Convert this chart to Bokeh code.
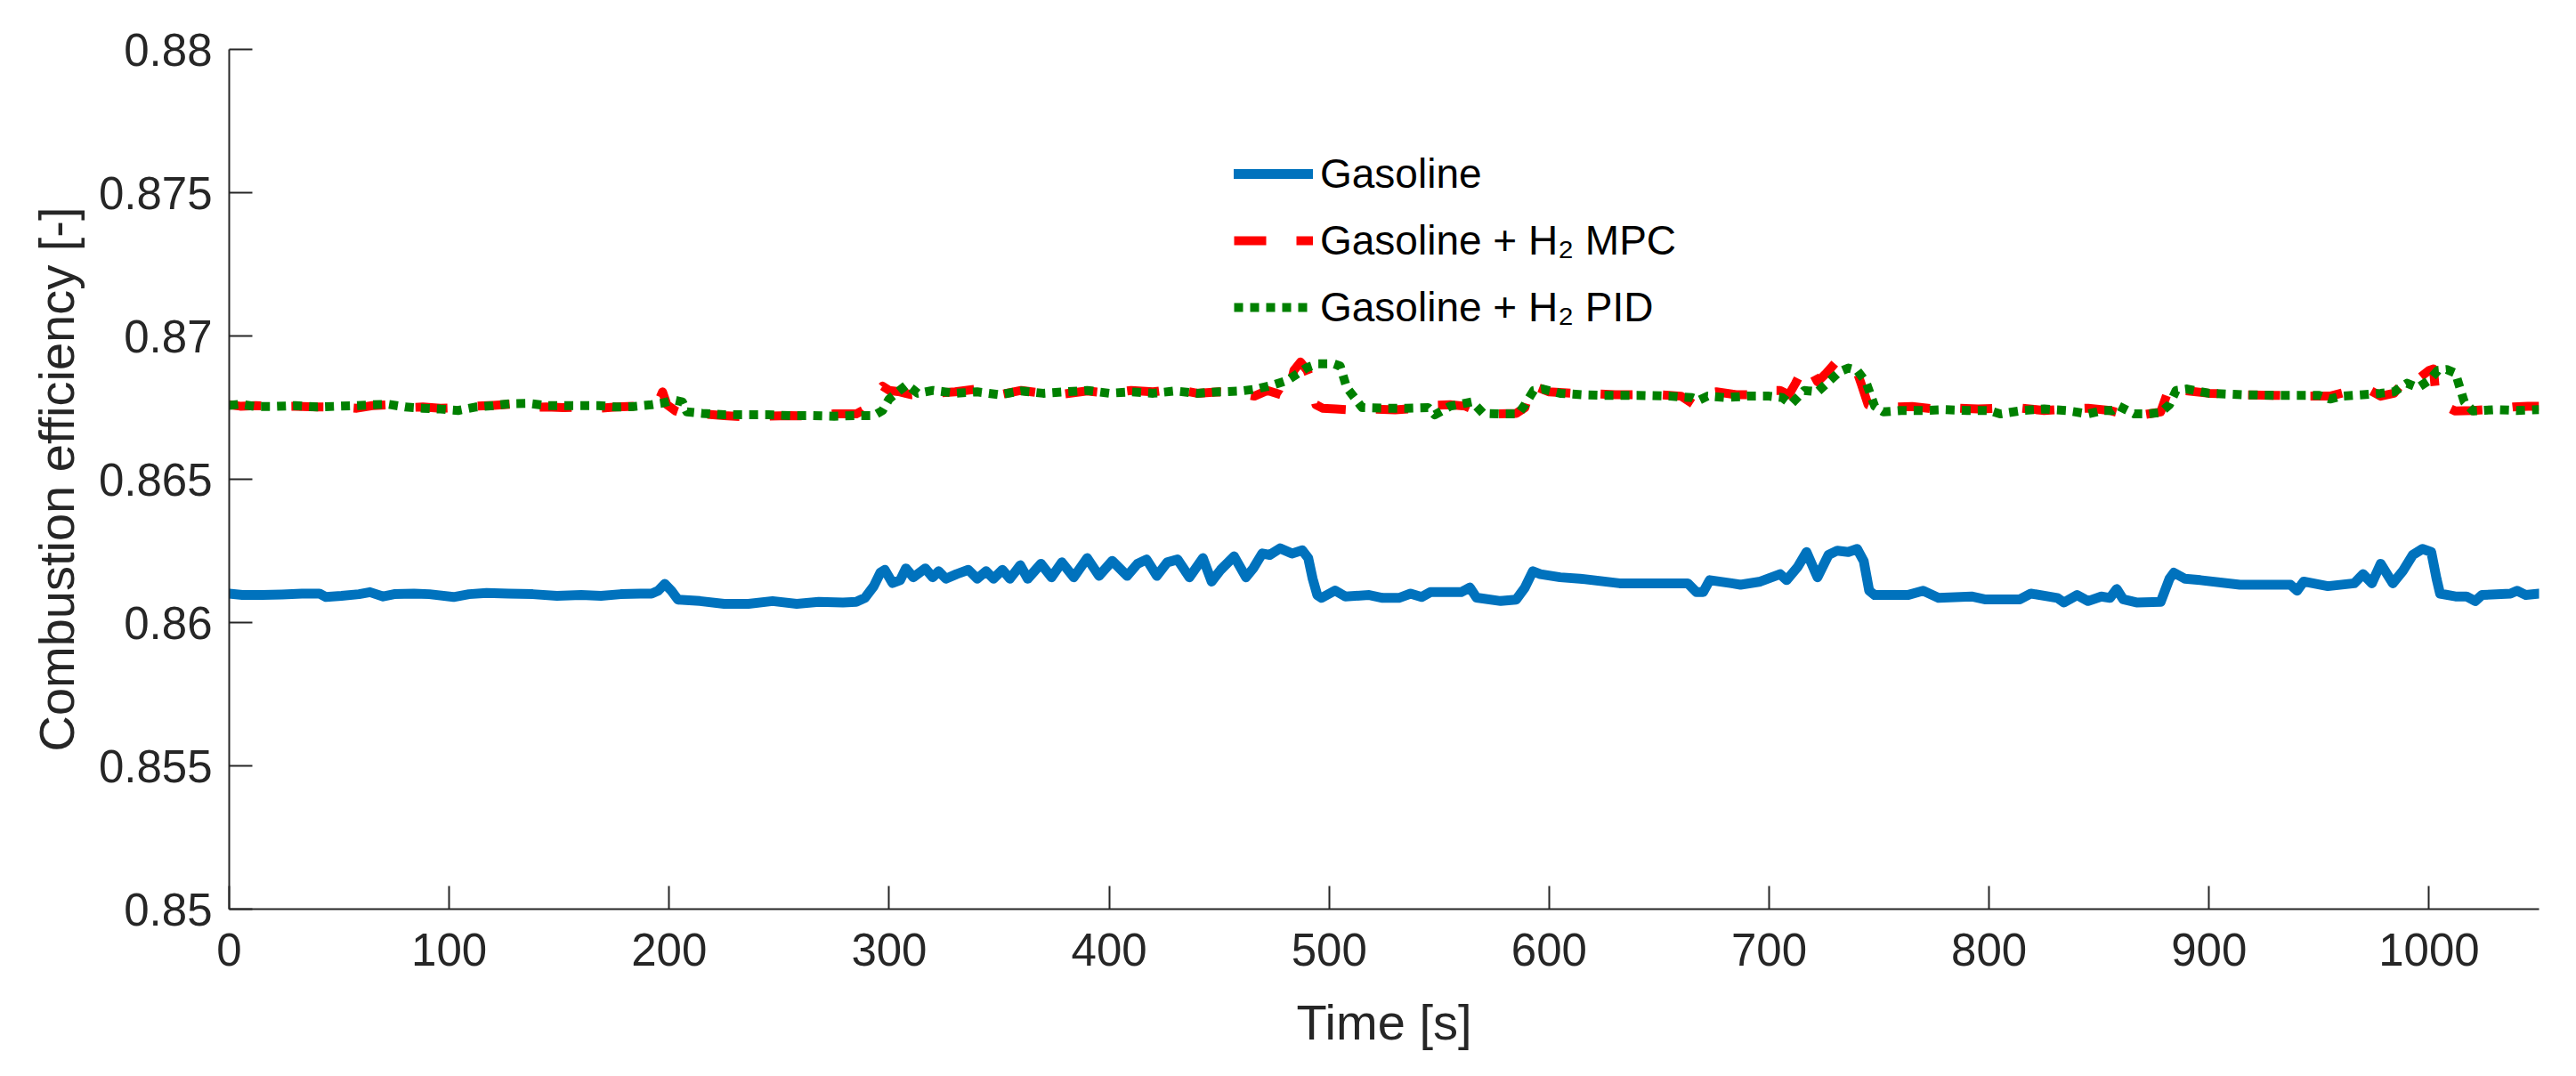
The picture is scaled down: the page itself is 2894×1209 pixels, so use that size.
from bokeh.plotting import figure
from bokeh.models import Range1d, FixedTicker, CustomJSTickFormatter, ColumnDataSource, Legend, LegendItem
from bokeh.embed import file_html
from bokeh.resources import INLINE

# ---------------- data ----------------
t_gas = [0, 6, 15, 24, 33, 41, 44, 51, 59, 64, 70, 75, 84, 91, 102, 109, 117, 127, 138, 149,
         160, 169, 178, 187, 192, 195, 198, 201, 204, 214, 225, 236, 247, 258, 268, 279, 285,
         289, 293, 296, 298, 301.5, 305, 307.6, 311, 316.4, 319.8, 322.5, 325.8, 330.6, 336,
         340, 344.1, 347.4, 351.5, 354.9, 359.6, 363, 369, 373.8, 378.5, 383.9, 390, 395.4,
         401.4, 408.2, 412.9, 417, 421.7, 426.4, 431.1, 436.5, 442.6, 446.6, 450.7, 456.8,
         462.2, 465.5, 469.6, 473, 477.7, 483.1, 487.8, 490.5, 492.5, 494.6, 496.6, 502.7,
         507.4, 518.2, 524.3, 531.7, 537, 542, 546, 560, 564, 567, 578, 585, 589, 592.6, 596,
         605, 614, 632, 650, 663, 667, 670, 673, 683, 687, 696, 705, 708, 713, 717, 722, 727,
         731, 736, 740, 743, 745.5, 748, 763, 770, 777, 792, 798, 814, 819, 831, 834, 840, 845,
         851, 855, 858, 861, 867, 878, 882, 884, 889, 896, 914, 932, 937, 940, 943, 954, 966,
         970, 974, 978, 983.5, 988, 992.6, 997, 1001, 1003.4, 1005, 1012, 1017, 1021, 1024,
         1037, 1040, 1044, 1050]
gasoline = [0.86101, 0.86096, 0.86096, 0.86098, 0.86101, 0.86101, 0.86089, 0.86093, 0.86099,
            0.86106, 0.86091, 0.86099, 0.86101, 0.86099, 0.86089, 0.86099, 0.86103, 0.86101,
            0.86099, 0.86093, 0.86096, 0.86093, 0.86099, 0.86101, 0.86101, 0.86111, 0.86135,
            0.86111, 0.86080, 0.86075, 0.86065, 0.86065, 0.86075, 0.86065, 0.86072, 0.86070,
            0.86072, 0.86086, 0.86127, 0.86174, 0.86184, 0.86138, 0.86148, 0.86189, 0.86158,
            0.86189, 0.86158, 0.86179, 0.86153, 0.86169, 0.86184, 0.86153, 0.86179, 0.86153,
            0.86184, 0.86153, 0.86200, 0.86153, 0.86205, 0.86158, 0.86210, 0.86158, 0.86225,
            0.86163, 0.86215, 0.86163, 0.86205, 0.86220, 0.86163, 0.86210, 0.86220, 0.86158,
            0.86225, 0.86143, 0.86184, 0.86231, 0.86158, 0.86189, 0.86241, 0.86236, 0.86259,
            0.86241, 0.86252, 0.86225, 0.86153, 0.86096, 0.86086, 0.86112, 0.86091, 0.86096,
            0.86086, 0.86086, 0.86101, 0.86089, 0.86106, 0.86106, 0.86122, 0.86087, 0.86075,
            0.86080, 0.86122, 0.86179, 0.86169, 0.86158, 0.86153, 0.86137, 0.86137, 0.86137,
            0.86106, 0.86106, 0.86148, 0.86137, 0.86132, 0.86143, 0.86169, 0.86148, 0.86194,
            0.86246, 0.86158, 0.86236, 0.86251, 0.86246, 0.86257, 0.86215, 0.86111, 0.86096,
            0.86096, 0.86111, 0.86086, 0.86091, 0.86081, 0.86081, 0.86101, 0.86086, 0.86070,
            0.86096, 0.86075, 0.86091, 0.86086, 0.86117, 0.86081, 0.86070, 0.86072, 0.86153,
            0.86174, 0.86153, 0.86148, 0.86132, 0.86132, 0.86132, 0.86111, 0.86143, 0.86127,
            0.86137, 0.86169, 0.86137, 0.86205, 0.86137, 0.86179, 0.86236, 0.86257, 0.86246,
            0.86153, 0.86101, 0.86091, 0.86091, 0.86075, 0.86096, 0.86101, 0.86111, 0.86096,
            0.86101]

t_mpc = [0, 5, 12, 20, 30, 40, 50, 58, 65, 72, 80, 88, 96, 104, 112, 120, 128, 136, 144, 152,
         160, 168, 176, 184, 192, 195, 197, 199, 203, 206, 215, 225, 235, 245, 255, 265, 275,
         285, 288, 293, 297, 300, 305, 310, 320, 330, 340, 350, 360, 370, 380, 390, 400, 410,
         420, 430, 440, 450, 460, 466, 472, 478, 481, 484, 487, 490, 492, 494, 497, 503, 510,
         520, 530, 540, 548, 555, 562, 568, 575, 585, 589, 592, 595, 600, 610, 620, 630, 640,
         650, 660, 664, 667, 671, 676, 685, 695, 700, 705, 709, 712, 716, 718, 722, 726, 731,
         736, 740, 742, 745, 750, 758, 765, 775, 785, 795, 805, 815, 825, 835, 845, 855, 862,
         870, 878, 881, 883, 888, 900, 915, 930, 945, 955, 966, 972, 978, 984, 988, 991, 995,
         1000, 1002, 1003, 1006, 1012, 1020, 1030, 1038, 1045, 1050]
gasoline_h2_mpc = [0.86760, 0.86755, 0.86757, 0.86754, 0.86755, 0.86752, 0.86752, 0.86748,
                   0.86757, 0.86760, 0.86750, 0.86752, 0.86748, 0.86750, 0.86755, 0.86758,
                   0.86762, 0.86750, 0.86752, 0.86750, 0.86752, 0.86748, 0.86752, 0.86755,
                   0.86760, 0.86770, 0.86805, 0.86760, 0.86738, 0.86730, 0.86728, 0.86722,
                   0.86718, 0.86720, 0.86722, 0.86720, 0.86728, 0.86728, 0.86740, 0.86790,
                   0.86825, 0.86810, 0.86805, 0.86795, 0.86800, 0.86805, 0.86815, 0.86795,
                   0.86810, 0.86800, 0.86798, 0.86808, 0.86800, 0.86810, 0.86805, 0.86815,
                   0.86800, 0.86805, 0.86798, 0.86790, 0.86810, 0.86795, 0.86780, 0.86880,
                   0.86909, 0.86880, 0.86840, 0.86760, 0.86748, 0.86745, 0.86742, 0.86745,
                   0.86742, 0.86748, 0.86758, 0.86760, 0.86755, 0.86735, 0.86728, 0.86730,
                   0.86750, 0.86836, 0.86820, 0.86805, 0.86800, 0.86798, 0.86795, 0.86795,
                   0.86795, 0.86790, 0.86770, 0.86755, 0.86800, 0.86805, 0.86795, 0.86795,
                   0.86810, 0.86810, 0.86795, 0.86835, 0.86895, 0.86898, 0.86840, 0.86870,
                   0.86914, 0.86885, 0.86875, 0.86830, 0.86760, 0.86745, 0.86752, 0.86754,
                   0.86745, 0.86748, 0.86745, 0.86748, 0.86748, 0.86740, 0.86745, 0.86748,
                   0.86740, 0.86725, 0.86725, 0.86735, 0.86800, 0.86836, 0.86810, 0.86800,
                   0.86795, 0.86793, 0.86790, 0.86790, 0.86812, 0.86815, 0.86790, 0.86800,
                   0.86836, 0.86867, 0.86850, 0.86880, 0.86885, 0.86800, 0.86760, 0.86738,
                   0.86740, 0.86745, 0.86752, 0.86755, 0.86755]

t_pid = [0, 5, 12, 20, 30, 40, 50, 58, 65, 72, 80, 88, 96, 104, 112, 120, 128, 136, 144, 152,
         160, 168, 176, 184, 192, 197, 200, 203, 206, 208, 215, 225, 235, 245, 255, 265, 275,
         285, 293, 297, 300, 304, 308, 313, 320, 330, 340, 350, 360, 370, 380, 390, 400, 410,
         420, 430, 440, 450, 460, 467, 475, 481, 486, 490, 495, 502, 505, 508, 515, 525, 535,
         545, 548, 555, 565, 570, 578, 586, 589, 593, 597, 605, 615, 625, 640, 655, 665, 668,
         672, 680, 690, 700, 706, 710, 716, 722, 727, 732, 736, 740, 744, 748, 752, 760, 770,
         780, 790, 800, 805, 815, 825, 835, 845, 852, 856, 859, 866, 872, 878, 882, 885, 890,
         900, 915, 930, 950, 955, 960, 970, 978, 984, 990, 995, 1000, 1004, 1008, 1012, 1016,
         1020, 1030, 1040, 1050]
gasoline_h2_pid = [0.86758, 0.86762, 0.86754, 0.86754, 0.86757, 0.86752, 0.86755, 0.86757,
                   0.86760, 0.86762, 0.86752, 0.86748, 0.86745, 0.86740, 0.86752, 0.86757,
                   0.86764, 0.86765, 0.86757, 0.86757, 0.86757, 0.86757, 0.86752, 0.86754,
                   0.86760, 0.86766, 0.86772, 0.86775, 0.86770, 0.86735, 0.86730, 0.86725,
                   0.86725, 0.86725, 0.86722, 0.86722, 0.86720, 0.86722, 0.86722, 0.86740,
                   0.86780, 0.86805, 0.86830, 0.86800, 0.86810, 0.86800, 0.86805, 0.86795,
                   0.86808, 0.86800, 0.86805, 0.86810, 0.86800, 0.86805, 0.86800, 0.86808,
                   0.86800, 0.86805, 0.86808, 0.86815, 0.86830, 0.86845, 0.86870, 0.86890,
                   0.86903, 0.86903, 0.86895, 0.86820, 0.86750, 0.86748, 0.86748, 0.86750,
                   0.86725, 0.86755, 0.86770, 0.86730, 0.86728, 0.86728, 0.86760, 0.86810,
                   0.86815, 0.86800, 0.86795, 0.86793, 0.86793, 0.86790, 0.86785, 0.86775,
                   0.86790, 0.86785, 0.86790, 0.86790, 0.86785, 0.86762, 0.86810, 0.86805,
                   0.86840, 0.86875, 0.86888, 0.86880, 0.86840, 0.86755, 0.86735, 0.86740,
                   0.86740, 0.86743, 0.86740, 0.86740, 0.86728, 0.86740, 0.86745, 0.86740,
                   0.86728, 0.86740, 0.86740, 0.86755, 0.86728, 0.86728, 0.86733, 0.86760,
                   0.86810, 0.86815, 0.86800, 0.86795, 0.86793, 0.86793, 0.86780, 0.86790,
                   0.86795, 0.86800, 0.86805, 0.86835, 0.86820, 0.86845, 0.86880, 0.86883,
                   0.86870, 0.86770, 0.86738, 0.86743, 0.86740, 0.86743]

series_labels = ["Gasoline", "Gasoline + H\u2082 MPC", "Gasoline + H\u2082 PID"]
x_ticks = [0, 100, 200, 300, 400, 500, 600, 700, 800, 900, 1000]
y_ticks = [0.85, 0.855, 0.86, 0.865, 0.87, 0.875, 0.88]
x_title = "Time [s]"
y_title = "Combustion efficiency [-]"

# ---------------- figure ----------------
FONT = "Liberation Sans"
AX = "#262626"

p = figure(width=2878, height=1193, output_backend="svg", toolbar_location=None,
           x_range=Range1d(0, 1050), y_range=Range1d(0.85, 0.88),
           min_border_left=257, min_border_right=26, min_border_top=55, min_border_bottom=172)
p.outline_line_color = None
p.grid.visible = False
p.background_fill_color = "white"
p.border_fill_color = "white"

r_gas = p.line(x="t", y="v", source=ColumnDataSource(dict(t=t_gas, v=gasoline)),
               line_color="#0072BD", line_width=11, line_join="round", line_cap="round")
r_mpc = p.line(x="t", y="v", source=ColumnDataSource(dict(t=t_mpc, v=gasoline_h2_mpc)),
               line_color="#FF0000", line_width=10, line_dash="36 34", line_join="round")
r_pid = p.line(x="t", y="v", source=ColumnDataSource(dict(t=t_pid, v=gasoline_h2_pid)),
               line_color="#008000", line_width=10, line_dash="10 8", line_join="round")

for ax in (p.xaxis[0], p.yaxis[0]):
    ax.axis_line_color = AX
    ax.axis_line_width = 2
    ax.major_tick_line_color = AX
    ax.major_tick_line_width = 2
    ax.major_tick_in = 26
    ax.major_tick_out = 0
    ax.minor_tick_line_color = None
    ax.major_label_text_font = FONT
    ax.major_label_text_font_size = "51px"
    ax.major_label_text_color = AX
    ax.axis_label_text_font = FONT
    ax.axis_label_text_font_size = "56px"
    ax.axis_label_text_font_style = "normal"
    ax.axis_label_text_color = AX

p.xaxis[0].ticker = FixedTicker(ticks=x_ticks)
p.yaxis[0].ticker = FixedTicker(ticks=y_ticks)
p.yaxis[0].formatter = CustomJSTickFormatter(code="return tick.toFixed(3).replace(/0+$/, '');")
p.xaxis[0].axis_label = x_title
p.yaxis[0].axis_label = y_title
p.xaxis[0].major_label_standoff = 27
p.yaxis[0].major_label_standoff = 19
p.xaxis[0].axis_label_standoff = 29
p.yaxis[0].axis_label_standoff = 13

legend = Legend(items=[LegendItem(label=series_labels[0], renderers=[r_gas]),
                       LegendItem(label=series_labels[1], renderers=[r_mpc]),
                       LegendItem(label=series_labels[2], renderers=[r_pid])],
                location=(1129, 646))
legend.label_text_font = FONT
legend.label_text_font_size = "46px"
legend.label_text_color = "black"
legend.glyph_width = 89
legend.glyph_height = 20
legend.label_standoff = 8
legend.label_height = 60
legend.spacing = 15
legend.padding = 0
legend.margin = 0
legend.border_line_color = None
legend.background_fill_alpha = 0
p.add_layout(legend, "center")

open("out.html", "w").write(file_html(p, INLINE))
